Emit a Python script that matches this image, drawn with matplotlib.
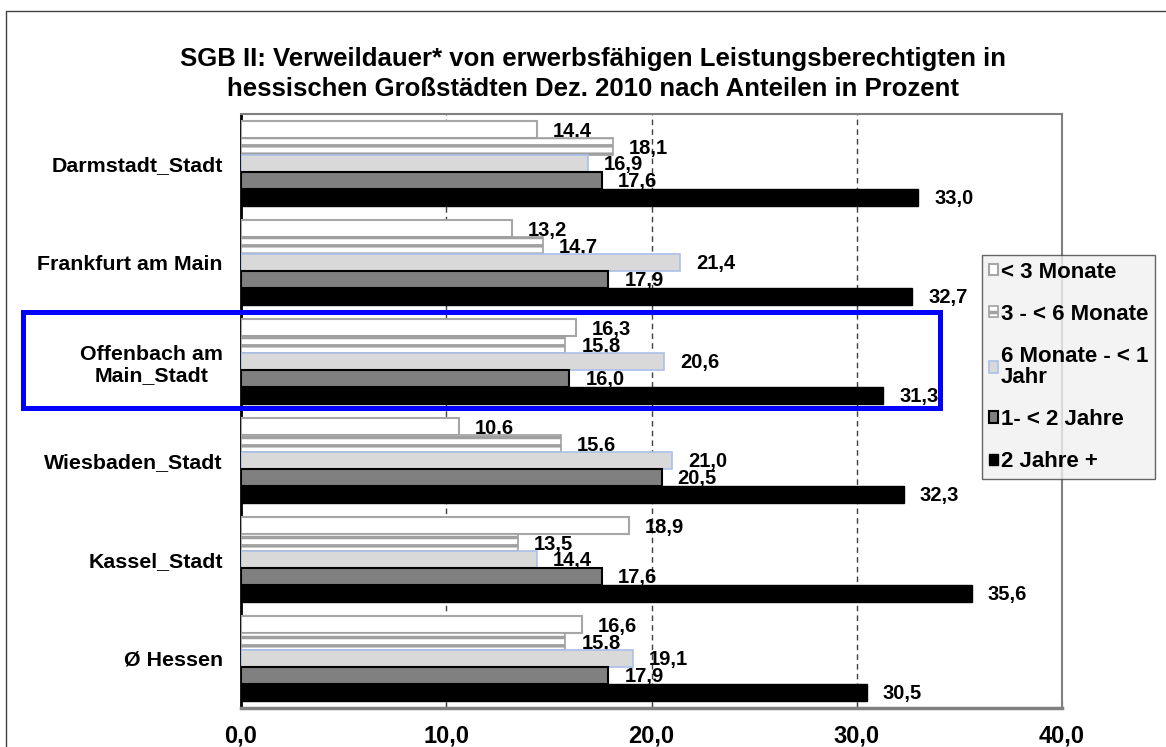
import matplotlib
matplotlib.use("Agg")
import matplotlib.pyplot as plt
from matplotlib.patches import Patch, Rectangle
from matplotlib.ticker import FuncFormatter
import numpy as np

plt.rcParams['font.family'] = ['Liberation Sans', 'DejaVu Sans']
plt.rcParams['font.weight'] = 'bold'
plt.rcParams['hatch.linewidth'] = 2.5

categories = ["Darmstadt_Stadt", "Frankfurt am Main", "Offenbach am\nMain_Stadt",
              "Wiesbaden_Stadt", "Kassel_Stadt", "Ø Hessen"]
series_names = ["< 3 Monate", "3 - < 6 Monate", "6 Monate - < 1\nJahr",
                "1- < 2 Jahre", "2 Jahre +"]
lt3m = [14.4, 13.2, 16.3, 10.6, 18.9, 16.6]
m3to6 = [18.1, 14.7, 15.8, 15.6, 13.5, 15.8]
m6to12 = [16.9, 21.4, 20.6, 21.0, 14.4, 19.1]
y1to2 = [17.6, 17.9, 16.0, 20.5, 17.6, 17.9]
y2plus = [33.0, 32.7, 31.3, 32.3, 35.6, 30.5]
series = [lt3m, m3to6, m6to12, y1to2, y2plus]
xticks = [0, 10, 20, 30, 40]

styles = [
    dict(facecolor='white', edgecolor='#a6a6a6', linewidth=1.5),
    dict(facecolor='white', edgecolor='#a0a0a0', linewidth=1.2, hatch='--'),
    dict(facecolor='#d9d9d9', edgecolor='#a9c0e8', linewidth=1.2),
    dict(facecolor='#808080', edgecolor='#000000', linewidth=1.5),
    dict(facecolor='#000000', edgecolor='#000000', linewidth=1.0),
]

W, H = 1166, 747
fig = plt.figure(figsize=(W / 100, H / 100), dpi=100)
ax = fig.add_axes([241 / W, 1 - 708 / H, (1062 - 241) / W, (708 - 114) / H])

y = np.arange(len(categories))
bh = 0.17
for k, (vals, st) in enumerate(zip(series, styles)):
    pos = y + (k - 2) * bh
    ax.barh(pos, vals, height=bh, zorder=3, **st)
    for p, v in zip(pos, vals):
        ax.annotate(f"{v:.1f}".replace('.', ','), (v, p), xytext=(11.5, -1),
                    textcoords='offset points', va='center', ha='left',
                    fontsize=14.5, fontweight='bold', zorder=2)

ax.set_xlim(0, 40)
ax.set_ylim(len(categories) - 0.5, -0.5)
ax.set_xticks(xticks)
ax.xaxis.set_major_formatter(FuncFormatter(lambda v, p: f"{v:.1f}".replace('.', ',')))
ax.set_yticks(y)
ax.set_yticklabels(categories, fontsize=15.4, fontweight='bold', multialignment='center')
ax.tick_params(axis='y', length=0, pad=13)
ax.tick_params(axis='x', direction='in', length=5, pad=12, labelsize=17, color='#404040')
for lab in ax.get_xticklabels():
    lab.set_fontweight('bold')
ax.xaxis.grid(True, linestyle=(0, (4, 3)), color='#404040', linewidth=1, zorder=1)
ax.set_axisbelow(True)
for s in ['top', 'right']:
    ax.spines[s].set_color('#808080')
    ax.spines[s].set_linewidth(1.5)
ax.spines['bottom'].set_color('#808080')
ax.spines['bottom'].set_linewidth(2.5)
ax.spines['left'].set_color('black')
ax.spines['left'].set_linewidth(2)

fig.text(593 / W, 1 - 74 / H,
         "SGB II: Verweildauer* von erwerbsfähigen Leistungsberechtigten in\n"
         "hessischen Großstädten Dez. 2010 nach Anteilen in Prozent",
         ha='center', va='center', fontsize=18.5, fontweight='bold', linespacing=1.35)

# outer frame
fig.patches.append(Rectangle((6 / W, -0.01), 1.02, 1 - 11 / H + 0.01, transform=fig.transFigure,
                             fill=False, edgecolor='#404040', linewidth=1, zorder=0))
# highlight box
fig.patches.append(Rectangle((23 / W, 1 - 408 / H), (940 - 23) / W, (408 - 312) / H,
                             transform=fig.transFigure, fill=False, edgecolor='#0000ff',
                             linewidth=3.6, zorder=10))

handles = [Patch(**st) for st in styles]
leg = fig.legend(handles, series_names, loc='upper left',
                 bbox_to_anchor=(982 / W, 1 - 255 / H), fontsize=16,
                 handlelength=0.4, handleheight=0.4, handletextpad=0.15,
                 labelspacing=0.95, borderaxespad=0, borderpad=0.3,
                 frameon=True, fancybox=False)
leg.get_frame().set_facecolor('#f0f0f0')
leg.get_frame().set_edgecolor('#404040')
leg.get_frame().set_linewidth(1)
leg.set_zorder(20)
for t in leg.get_texts():
    t.set_fontweight('bold')
    t.set_linespacing(1.0)

fig.savefig("out.png", dpi=100)
